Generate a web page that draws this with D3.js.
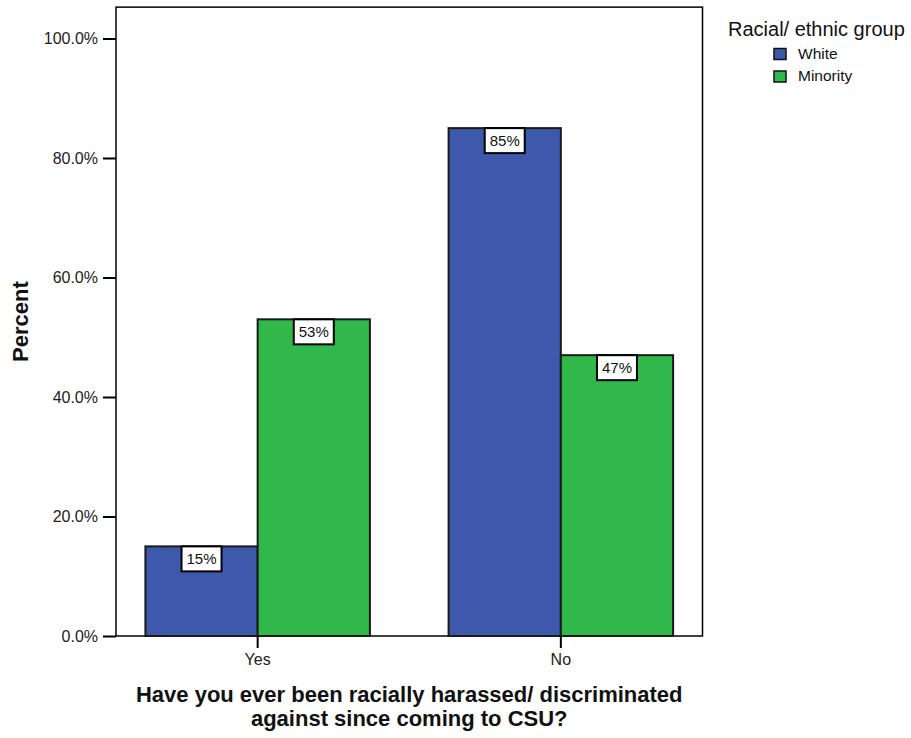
<!DOCTYPE html>
<html>
<head>
<meta charset="utf-8">
<script src="https://cdn.jsdelivr.net/npm/d3@7/dist/d3.min.js"></script>
<style>
  html, body { margin: 0; padding: 0; background: #ffffff; }
  svg { display: block; font-family: "Liberation Sans", Arial, Helvetica, sans-serif; }
</style>
</head>
<body>
<svg id="chart" width="911" height="738"></svg>
<script>
// Survey answers and percentages per racial/ethnic group
const categories = ["Yes", "No"];
const groups = ["White", "Minority"];
const whitePct = [15, 85];
const minorityPct = [53, 47];
const yTicks = [0, 20, 40, 60, 80, 100];
const colors = ["#3e58ac", "#30b84a"];

const seriesByGroup = [whitePct, minorityPct];

const svg = d3.select("#chart");
const plot = { left: 116, right: 702.5, bottom: 636, top100: 38.5 };

const y = d3.scaleLinear().domain([0, 100]).range([plot.bottom, plot.top100]);
const frameTop = y(105.25);

const x = d3.scaleBand()
  .domain(categories)
  .range([plot.left, plot.right])
  .paddingInner(0.2595)
  .paddingOuter(0.097);

const xSub = d3.scaleBand()
  .domain(groups)
  .range([0, x.bandwidth()])
  .padding(0);

// plot frame
svg.append("rect")
  .attr("x", plot.left)
  .attr("y", frameTop)
  .attr("width", plot.right - plot.left)
  .attr("height", plot.bottom - frameTop)
  .attr("fill", "none")
  .attr("stroke", "#000")
  .attr("stroke-width", 1.5);

// bars
const rows = [];
categories.forEach((c, i) => {
  groups.forEach((g, j) => {
    rows.push({ cat: c, group: g, value: seriesByGroup[j][i], color: colors[j] });
  });
});

const barG = svg.append("g");
barG.selectAll("rect")
  .data(rows)
  .join("rect")
  .attr("x", d => x(d.cat) + xSub(d.group))
  .attr("y", d => y(d.value))
  .attr("width", xSub.bandwidth())
  .attr("height", d => y(0) - y(d.value))
  .attr("fill", d => d.color)
  .attr("stroke", "#1a1a1a")
  .attr("stroke-width", 2);

// value labels in white boxes at the bar tops
const lab = svg.append("g").selectAll("g")
  .data(rows)
  .join("g")
  .attr("transform", d => `translate(${x(d.cat) + xSub(d.group) + xSub.bandwidth() / 2},${y(d.value)})`);
lab.append("rect")
  .attr("x", -20).attr("y", 0)
  .attr("width", 40).attr("height", 25)
  .attr("fill", "#fff")
  .attr("stroke", "#000")
  .attr("stroke-width", 2);
lab.append("text")
  .attr("x", 0).attr("y", 18)
  .attr("text-anchor", "middle")
  .attr("font-size", 15)
  .attr("fill", "#111")
  .text(d => d.value + "%");

// y axis
const yAxis = d3.axisLeft(y)
  .tickValues(yTicks)
  .tickFormat(d => d.toFixed(1) + "%")
  .tickSize(13)
  .tickPadding(5);
const yg = svg.append("g")
  .attr("transform", `translate(${plot.left},0)`)
  .call(yAxis);
yg.select(".domain").remove();
yg.selectAll(".tick line").attr("stroke", "#000").attr("stroke-width", 2);
yg.selectAll(".tick text")
  .attr("font-size", 16)
  .attr("font-family", "Liberation Sans, Arial, sans-serif")
  .attr("fill", "#222");

// x axis
const xAxis = d3.axisBottom(x).tickSize(12).tickPadding(6);
const xg = svg.append("g")
  .attr("transform", `translate(0,${plot.bottom})`)
  .call(xAxis);
xg.select(".domain").remove();
xg.selectAll(".tick line").attr("stroke", "#000").attr("stroke-width", 2);
xg.selectAll(".tick text")
  .attr("font-size", 16)
  .attr("font-family", "Liberation Sans, Arial, sans-serif")
  .attr("fill", "#222");

// axis titles
const cx = (plot.left + plot.right) / 2;
const xTitle = svg.append("text")
  .attr("text-anchor", "middle")
  .attr("font-size", 22)
  .attr("font-weight", "bold")
  .attr("fill", "#111");
xTitle.append("tspan").attr("x", cx).attr("y", 702)
  .text("Have you ever been racially harassed/ discriminated");
xTitle.append("tspan").attr("x", cx).attr("y", 726)
  .text("against since coming to CSU?");

svg.append("text")
  .attr("transform", `translate(28,${(frameTop + plot.bottom) / 2}) rotate(-90)`)
  .attr("text-anchor", "middle")
  .attr("font-size", 22)
  .attr("font-weight", "bold")
  .attr("fill", "#111")
  .text("Percent");

// legend
const leg = svg.append("g");
leg.append("text")
  .attr("x", 728).attr("y", 36)
  .attr("font-size", 20)
  .attr("fill", "#111")
  .text("Racial/ ethnic group");
const items = leg.selectAll("g.item")
  .data(groups)
  .join("g")
  .attr("class", "item")
  .attr("transform", (d, i) => `translate(774,${48.5 + i * 22.5})`);
items.append("rect")
  .attr("width", 12).attr("height", 11)
  .attr("fill", (d, i) => colors[i])
  .attr("stroke", "#111")
  .attr("stroke-width", 1.5);
items.append("text")
  .attr("x", 24).attr("y", 10)
  .attr("font-size", 15.5)
  .attr("fill", "#111")
  .text(d => d);
</script>
</body>
</html>
